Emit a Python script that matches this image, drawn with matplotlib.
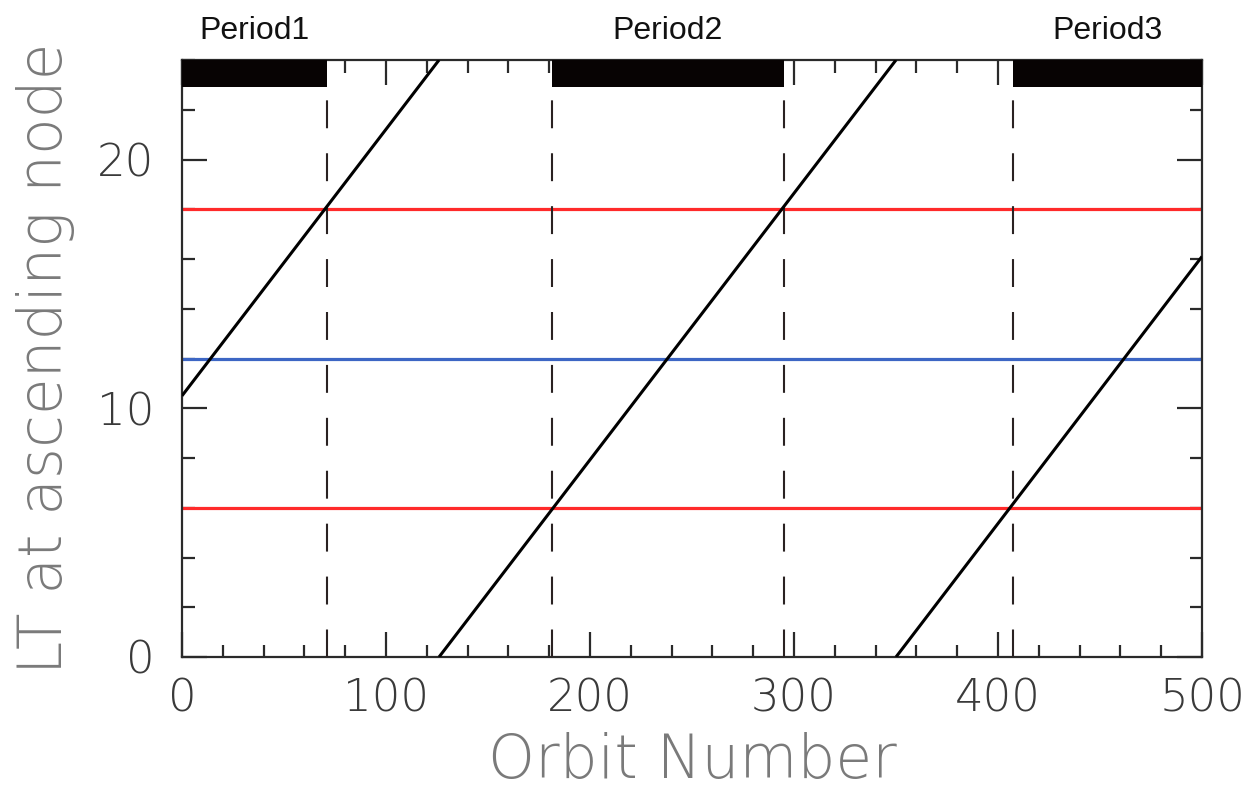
import matplotlib
matplotlib.use("Agg")
import matplotlib.pyplot as plt
from matplotlib.ticker import MultipleLocator

# ---- data ----
diag_x = [[0, 126], [126, 350], [350, 500]]
diag_y = [[10.5, 24], [0, 24], [0, 16.1]]
red_lt = [6, 18]
blue_lt = [12]
period_names = ["Period1", "Period2", "Period3"]
period_start = [0, 181.5, 407.5]
period_end = [71, 295, 500]
boundaries = [71, 181.5, 295, 407.5]
bar_low, bar_high = 22.9, 24
x_ticks = [0, 100, 200, 300, 400, 500]
y_ticks = [0, 10, 20]

fig = plt.figure(figsize=(12.49, 7.95), dpi=100)
ax = fig.add_axes([182 / 1249, 1 - 657 / 795, (1202 - 182) / 1249, (657 - 60) / 795])

# horizontal reference lines
for v in red_lt:
    ax.axhline(v, color="#ff2a2a", lw=2.3, zorder=2)
for v in blue_lt:
    ax.axhline(v, color="#3d66c4", lw=2.3, zorder=2)

# dashed boundaries
for b in boundaries:
    ax.plot([b, b], [bar_low, 0], color="#2a2222", lw=1.5,
            linestyle=(19, (13.4, 12)), zorder=3)

# period bars
for s, e, name in zip(period_start, period_end, period_names):
    ax.bar(s, bar_high - bar_low, width=e - s, bottom=bar_low, align="edge",
           color="#070303", edgecolor="none", zorder=4)
    ax.annotate(name, xy=((s + e) / 2, bar_high), xytext=(0, 15),
                textcoords="offset points", ha="center", va="baseline",
                fontsize=23, family="Liberation Sans", color="#111111",
                annotation_clip=False)

# diagonal lines
for xs, ys in zip(diag_x, diag_y):
    ax.plot(xs, ys, color="black", lw=2.2, zorder=5, solid_capstyle="butt")

ax.set_xlim(0, 500)
ax.set_ylim(0, 24)
ax.set_xticks(x_ticks)
ax.set_yticks(y_ticks)
ax.xaxis.set_minor_locator(MultipleLocator(20))
ax.yaxis.set_minor_locator(MultipleLocator(2))
ax.tick_params(which="both", direction="in", top=True, right=True,
               color="#2a2a2a", width=1.6)
ax.tick_params(which="major", length=18)
ax.tick_params(which="minor", length=9)
ax.tick_params(axis="x", which="major", pad=15)
ax.tick_params(axis="y", which="major", pad=20)
for lab in ax.get_xticklabels() + ax.get_yticklabels():
    lab.set_fontsize(32.4)
    lab.set_fontweight("light")
    lab.set_color("#3a3a3a")
for sp in ax.spines.values():
    sp.set_linewidth(1.6)
    sp.set_color("#2a2a2a")

ax.set_xlabel("Orbit Number", fontsize=43, color="#7a7a7a", fontweight="light", labelpad=8)
ax.set_ylabel("LT at ascending node", fontsize=43, color="#7a7a7a", fontweight="light", labelpad=16)

fig.savefig("out.png", dpi=100)
